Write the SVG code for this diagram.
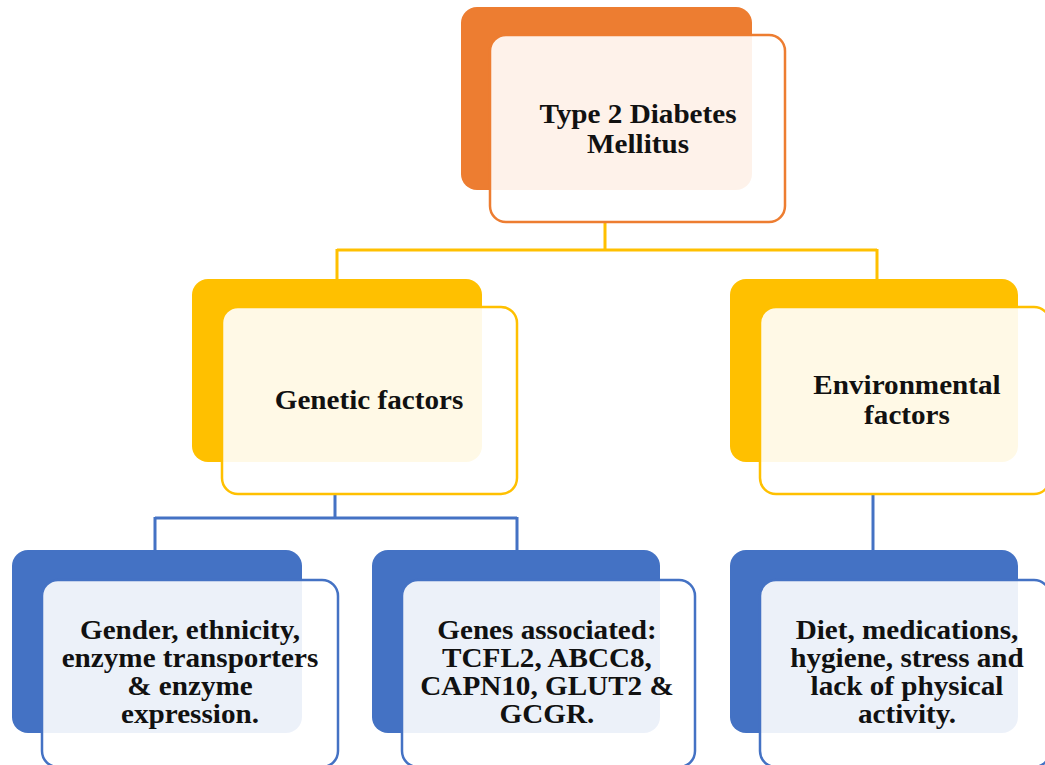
<svg xmlns="http://www.w3.org/2000/svg" width="1045" height="765" viewBox="0 0 1045 765">
<style>
.bg{stroke:none}
.fr{fill:#fff;fill-opacity:0.9;stroke-width:2.5}
.o .bg{fill:#ED7D31}.o .fr{stroke:#ED7D31}
.y .bg{fill:#FFC000}.y .fr{stroke:#FFC000}
.b .bg{fill:#4472C4}.b .fr{stroke:#4472C4}
text{font-weight:bold;font-size:27px;fill:#111;text-anchor:middle}
.cy{stroke:#FFC000;stroke-width:3;fill:none}
.cb{stroke:#4472C4;stroke-width:3;fill:none}
</style>
<rect width="1045" height="765" fill="#fff"/>
<g id="connectors">
<path class="cy" d="M605 223V250M337 250H877M337 249V280M877 249V280"/>
<path class="cb" d="M335 495V518M155 518H517M155 517V550M517 517V550"/>
<path class="cb" d="M873 493V550"/>
</g>
<g font-family="Liberation Serif, DejaVu Serif, serif">
<g id="n-t2dm" class="o">
<rect class="bg" x="461" y="7" width="291" height="183" rx="16"/>
<rect class="fr" x="490" y="35" width="295" height="187" rx="16"/>
<text transform="translate(638 123) scale(1.08 1)">Type 2 Diabetes</text>
<text transform="translate(638 153) scale(1.08 1)">Mellitus</text>
</g>
<g id="n-genetic" class="y">
<rect class="bg" x="192" y="279" width="290" height="183" rx="16"/>
<rect class="fr" x="222" y="307" width="295" height="187" rx="16"/>
<text transform="translate(369 409) scale(1.08 1)">Genetic factors</text>
</g>
<g id="n-env" class="y">
<rect class="bg" x="730" y="279" width="288" height="183" rx="16"/>
<rect class="fr" x="760" y="307" width="290" height="187" rx="16"/>
<text transform="translate(907 394) scale(1.08 1)">Environmental</text>
<text transform="translate(907 424) scale(1.08 1)">factors</text>
</g>
<g id="n-gender" class="b">
<rect class="bg" x="12" y="550" width="290" height="183" rx="16"/>
<rect class="fr" x="42" y="580" width="296" height="187" rx="16"/>
<text transform="translate(190 639) scale(1.08 1)">Gender, ethnicity,</text>
<text transform="translate(190 667) scale(1.08 1)">enzyme transporters</text>
<text transform="translate(190 695) scale(1.08 1)">&amp; enzyme</text>
<text transform="translate(190 723) scale(1.08 1)">expression.</text>
</g>
<g id="n-genes" class="b">
<rect class="bg" x="372" y="550" width="288" height="183" rx="16"/>
<rect class="fr" x="402" y="580" width="293" height="187" rx="16"/>
<text transform="translate(547 639) scale(1.08 1)">Genes associated:</text>
<text transform="translate(547 667) scale(1.08 1)">TCFL2, ABCC8,</text>
<text transform="translate(547 695) scale(1.08 1)">CAPN10, GLUT2 &amp;</text>
<text transform="translate(547 723) scale(1.08 1)">GCGR.</text>
</g>
<g id="n-lifestyle" class="b">
<rect class="bg" x="730" y="550" width="288" height="183" rx="16"/>
<rect class="fr" x="760" y="580" width="290" height="187" rx="16"/>
<text transform="translate(907 639) scale(1.08 1)">Diet, medications,</text>
<text transform="translate(907 667) scale(1.08 1)">hygiene, stress and</text>
<text transform="translate(907 695) scale(1.08 1)">lack of physical</text>
<text transform="translate(907 723) scale(1.08 1)">activity.</text>
</g>
</g>
</svg>
